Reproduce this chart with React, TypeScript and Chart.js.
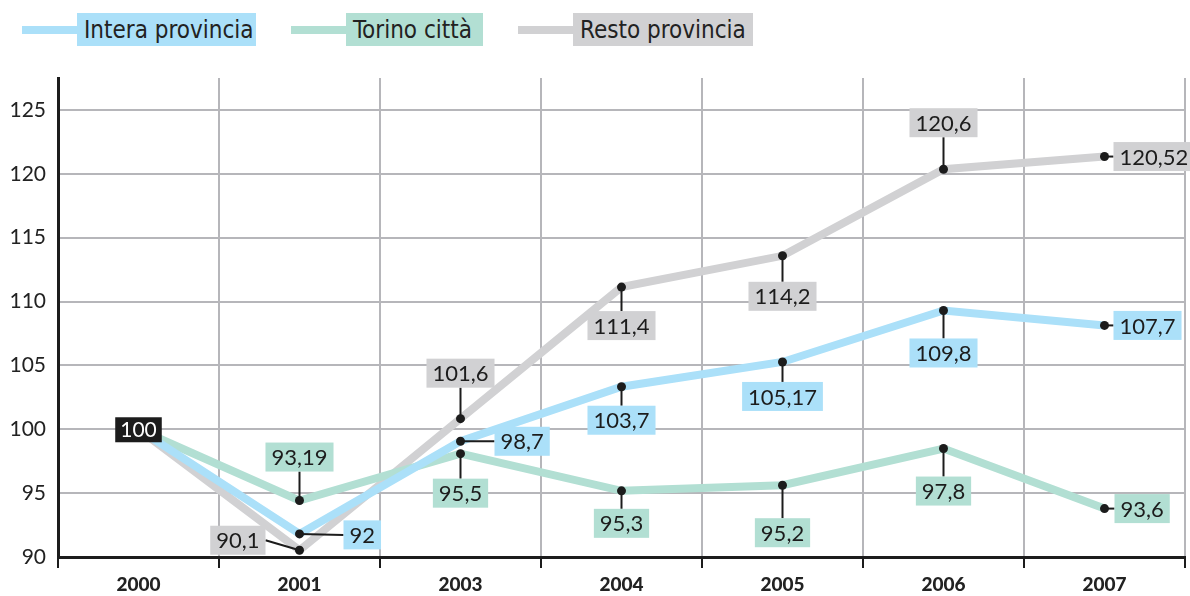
import React, { useEffect, useRef } from "react";
import { Chart, registerables } from "chart.js";

Chart.register(...registerables);

// ---- data ----
const YEARS = ["2000", "2001", "2003", "2004", "2005", "2006", "2007"];
const SERIES_NAMES = ["Intera provincia", "Torino città", "Resto provincia"];
const INTERA = [100, 91.81, 99.06, 103.33, 105.27, 109.3, 108.13];
const TORINO = [100, 94.42, 98.09, 95.18, 95.62, 98.49, 93.79];
const RESTO = [100, 90.53, 100.83, 111.13, 113.58, 120.36, 121.35];
const INTERA_LABELS = ["100", "92", "98,7", "103,7", "105,17", "109,8", "107,7"];
const TORINO_LABELS = ["100", "93,19", "95,5", "95,3", "95,2", "97,8", "93,6"];
const RESTO_LABELS = ["100", "90,1", "101,6", "111,4", "114,2", "120,6", "120,52"];
const Y_TICKS = [90, 95, 100, 105, 110, 115, 120, 125];

// ---- styling / layout ----
const COLORS = ["#abe0f9", "#b2dfd3", "#d1d1d3"];
const GRID = "#b6b6ba";
const INK = "#1c1c1c";
// label placement: [side, gap, dy]
type Place = [string, number, number] | null;
const INTERA_PLACE: Place[] = [null, ["r", 44, 1], ["r", 34, 0], ["b", 19, 0], ["b", 20, 0], ["b", 28, 0], ["r", 9, 0]];
const TORINO_PLACE: Place[] = [null, ["t", 29, 0], ["b", 25, 0], ["b", 18, 0], ["b", 33, 0], ["b", 28, 0], ["r", 10, 0]];
const RESTO_PLACE: Place[] = [null, ["l", 34, -10], ["t", 31, 0], ["b", 24, 0], ["b", 26, 0], ["t", 32, 0], ["r", 9, 0]];

const LABELS = [INTERA_LABELS, TORINO_LABELS, RESTO_LABELS];
const PLACES = [INTERA_PLACE, TORINO_PLACE, RESTO_PLACE];
const LABEL_FONT = "22px Lato, 'Open Sans', sans-serif";

const labelPlugin = {
  id: "pointLabels",
  afterDatasetsDraw(chart: any) {
    const ctx = chart.ctx as CanvasRenderingContext2D;
    const boxes: any[] = [];
    ctx.save();
    ctx.font = LABEL_FONT;
    const H = 29;
    const PAD = 6;
    chart.data.datasets.forEach((ds: any, di: number) => {
      const meta = chart.getDatasetMeta(di);
      meta.data.forEach((pt: any, i: number) => {
        const pl = PLACES[di][i];
        if (!pl) return;
        const x = pt.x;
        const y = pt.y;
        const text = LABELS[di][i];
        const w = ctx.measureText(text).width + PAD * 2;
        const [side, gap, dy] = pl;
        let bx = 0, by = 0, ex = x, ey = y;
        if (side === "r") { bx = x + gap; by = y + dy - H / 2; ex = bx; ey = y + dy; }
        else if (side === "l") { bx = x - gap - w; by = y + dy - H / 2; ex = x - gap; ey = y + dy; }
        else if (side === "t") { bx = x - w / 2; by = y - gap - H; ex = x; ey = y - gap; }
        else { bx = x - w / 2; by = y + gap; ex = x; ey = y + gap; }
        boxes.push({ x, y, ex, ey, bx, by, w, text, color: COLORS[di] });
      });
    });
    // leader lines
    ctx.strokeStyle = INK;
    ctx.lineWidth = 2;
    boxes.forEach((b) => {
      ctx.beginPath();
      ctx.moveTo(b.x, b.y);
      ctx.lineTo(b.ex, b.ey);
      ctx.stroke();
    });
    // boxes + text
    ctx.textBaseline = "middle";
    ctx.textAlign = "left";
    boxes.forEach((b) => {
      ctx.fillStyle = b.color;
      ctx.fillRect(b.bx, b.by, b.w, H);
      ctx.fillStyle = INK;
      ctx.fillText(b.text, b.bx + PAD, b.by + H / 2 + 1);
    });
    // dots
    ctx.fillStyle = INK;
    boxes.forEach((b) => {
      ctx.beginPath();
      ctx.arc(b.x, b.y, 4.5, 0, Math.PI * 2);
      ctx.fill();
    });
    // start value box (shared by all series)
    const p0 = chart.getDatasetMeta(0).data[0];
    if (p0) {
      ctx.font = "21px Lato, 'Open Sans', sans-serif";
      const t = INTERA_LABELS[0];
      const w = ctx.measureText(t).width + 10;
      ctx.fillStyle = INK;
      ctx.fillRect(p0.x - w / 2, p0.y - 12, w, 25);
      ctx.fillStyle = "#ffffff";
      ctx.textAlign = "center";
      ctx.fillText(t, p0.x, p0.y + 1);
    }
    ctx.restore();
  },
};

function Legend() {
  const item = (i: number, lineLeft: number, boxW: number) => (
    <div key={i} style={{ position: "absolute", left: lineLeft, top: 13, height: 33, display: "flex", alignItems: "center" }}>
      <div style={{ width: 55, height: 8, background: COLORS[i] }} />
      <div
        style={{
          width: boxW,
          height: 33,
          background: COLORS[i],
          boxSizing: "border-box",
          paddingLeft: 7,
          font: "24px 'Liberation Sans Narrow', 'DejaVu Sans Condensed', 'Roboto', sans-serif",
          color: "#222",
          lineHeight: "34px",
          whiteSpace: "nowrap",
        }}
      >
        {SERIES_NAMES[i]}
      </div>
    </div>
  );
  return (
    <>
      {item(0, 22, 179)}
      {item(1, 291, 137)}
      {item(2, 518, 180)}
    </>
  );
}

export default function App() {
  const ref = useRef<HTMLCanvasElement>(null);
  useEffect(() => {
    if (!ref.current) return;
    const chart = new Chart(ref.current, {
      type: "line",
      data: {
        labels: YEARS,
        datasets: [INTERA, TORINO, RESTO].map((d, i) => ({
          label: SERIES_NAMES[i],
          data: d,
          borderColor: COLORS[i],
          backgroundColor: COLORS[i],
          borderWidth: 8,
          pointRadius: 0,
          tension: 0,
          fill: false,
        })),
      },
      options: {
        animation: false,
        responsive: false,
        maintainAspectRatio: false,
        layout: { padding: { top: 78, right: 5, left: 0, bottom: 0 } },
        plugins: { legend: { display: false }, tooltip: { enabled: false } },
        scales: {
          x: {
            type: "category",
            offset: true,
            grid: { offset: true, color: GRID, lineWidth: 2, tickLength: 11, tickColor: INK, tickWidth: 2 },
            border: { color: INK, width: 3 },
            ticks: { font: { family: "Lato", size: 19, weight: "900" }, color: "#222", padding: 5, maxRotation: 0 },
            afterFit: (s: any) => { s.height = 39; },
          },
          y: {
            min: 90,
            max: 127.5,
            afterBuildTicks: (s: any) => { s.ticks = Y_TICKS.map((v) => ({ value: v })); },
            grid: { color: GRID, lineWidth: 2, drawTicks: false },
            border: { color: INK, width: 3 },
            ticks: { font: { family: "Lato", size: 21 }, color: "#222", padding: 12 },
            afterFit: (s: any) => { s.width = 58; },
          },
        },
      } as any,
      plugins: [labelPlugin],
    });
    return () => chart.destroy();
  }, []);
  return (
    <div style={{ position: "fixed", left: 0, top: 0, width: 1190, height: 596, background: "#fff" }}>
      <canvas ref={ref} width={1190} height={596} style={{ display: "block" }} />
      <Legend />
    </div>
  );
}
